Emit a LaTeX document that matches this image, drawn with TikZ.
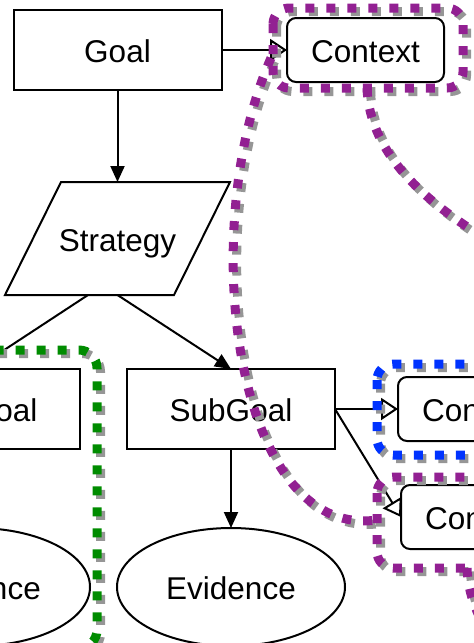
\documentclass[tikz,border=0pt]{standalone}
\usepackage{fontspec}
\setmainfont{Liberation Sans}
\usetikzlibrary{arrows.meta,shapes.geometric}

\definecolor{hlpurple}{RGB}{146,32,146}
\definecolor{hlgreen}{RGB}{0,140,0}
\definecolor{hlblue}{RGB}{0,51,255}
\definecolor{shadowgray}{RGB}{150,150,150}

% highlight loops and links (drawn twice: once as a shadow, once in colour)
\newcommand\hlpaths{%
  \draw[purplehl, rounded corners=16pt] (273,8) rectangle (463,88);
  \draw[purplehl] (367,88) .. controls (369,140) and (405,190) .. (485,238);
  \draw[purplehl] (271,58) .. controls (195,230) and (235,540) .. (377,520);
  \draw[purplehl, rounded corners=16pt] (377,477) rectangle (600,568);
  \draw[purplehl] (467,568) .. controls (469,620) and (505,670) .. (585,718);
  \draw[bluehl, rounded corners=16pt] (377,364) rectangle (600,455);
  \draw[greenhl, rounded corners=18pt] (-200,350) rectangle (97,648);
}

\begin{document}
\begin{tikzpicture}[x=1pt, y=-1pt,
  font=\fontsize{31.5}{36}\selectfont,
  every node/.style={inner sep=0pt, outer sep=0pt, text height=25.5pt, text depth=0pt},
  shapeline/.style={line width=2pt, line join=miter},
  goalbox/.style={shapeline, draw, rectangle, minimum width=208pt, minimum height=80pt},
  ctxbox/.style={shapeline, draw, rectangle, rounded corners=9pt, minimum width=157pt, minimum height=64pt},
  evidbox/.style={shapeline, draw, ellipse, minimum width=228pt, minimum height=118pt},
  solved/.style={line width=2pt, -{Triangle[length=16pt,width=14pt]}},
  incontext/.style={line width=2pt, -{Triangle[open,length=17pt,width=22pt]}},
  hlbase/.style={line width=9pt, dash pattern=on 9pt off 12pt},
  purplehl/.style={hlbase, draw=hlpurple},
  greenhl/.style={hlbase, draw=hlgreen},
  bluehl/.style={hlbase, draw=hlblue}]

\clip (0,0) rectangle (474,643);

% goal and its context
\node[goalbox] (goal) at (117.5,50) {Goal};
\node[ctxbox] (context) at (365.5,50) {Context};

% strategy (parallelogram)
\draw[shapeline] (61,182) -- (230,182) -- (174,295) -- (5,295) -- cycle;
\node (strategy) at (117.5,238.5) {Strategy};
\coordinate (strat-n) at (117.5,182);
\coordinate (strat-sl) at (88,295);
\coordinate (strat-s) at (117.5,295);

% sub-goals and evidence
\node[goalbox] (subL) at (-24,408.5) {SubGoal};
\node[goalbox] (subR) at (231,409) {SubGoal};
\node[evidbox] (evL) at (-24,587) {Evidence};
\node[evidbox] (evR) at (231,587) {Evidence};

% contexts of the right sub-goal
\node[ctxbox] (ctxA) at (476.5,409) {Context};
\node[ctxbox] (ctxB) at (479.5,517) {Context};

% connectors
\draw[solved] (goal.south) -- (strat-n);
\draw[incontext] (goal.east) -- (context.west);
\draw[solved] (strat-sl) -- (subL.north);
\draw[solved] (strat-s) -- (subR.north);
\draw[solved] (subR.south) -- (evR.north);
\draw[incontext] (subR.east) -- (ctxA.west);
\draw[incontext] (subR.east) -- (ctxB.west);

% highlight overlays: shadows first, then colour
\begin{scope}[shift={(3.5,3.5)},
  purplehl/.style={hlbase, draw=shadowgray},
  greenhl/.style={hlbase, draw=shadowgray},
  bluehl/.style={hlbase, draw=shadowgray}]
  \hlpaths
\end{scope}
\hlpaths

\end{tikzpicture}
\end{document}
